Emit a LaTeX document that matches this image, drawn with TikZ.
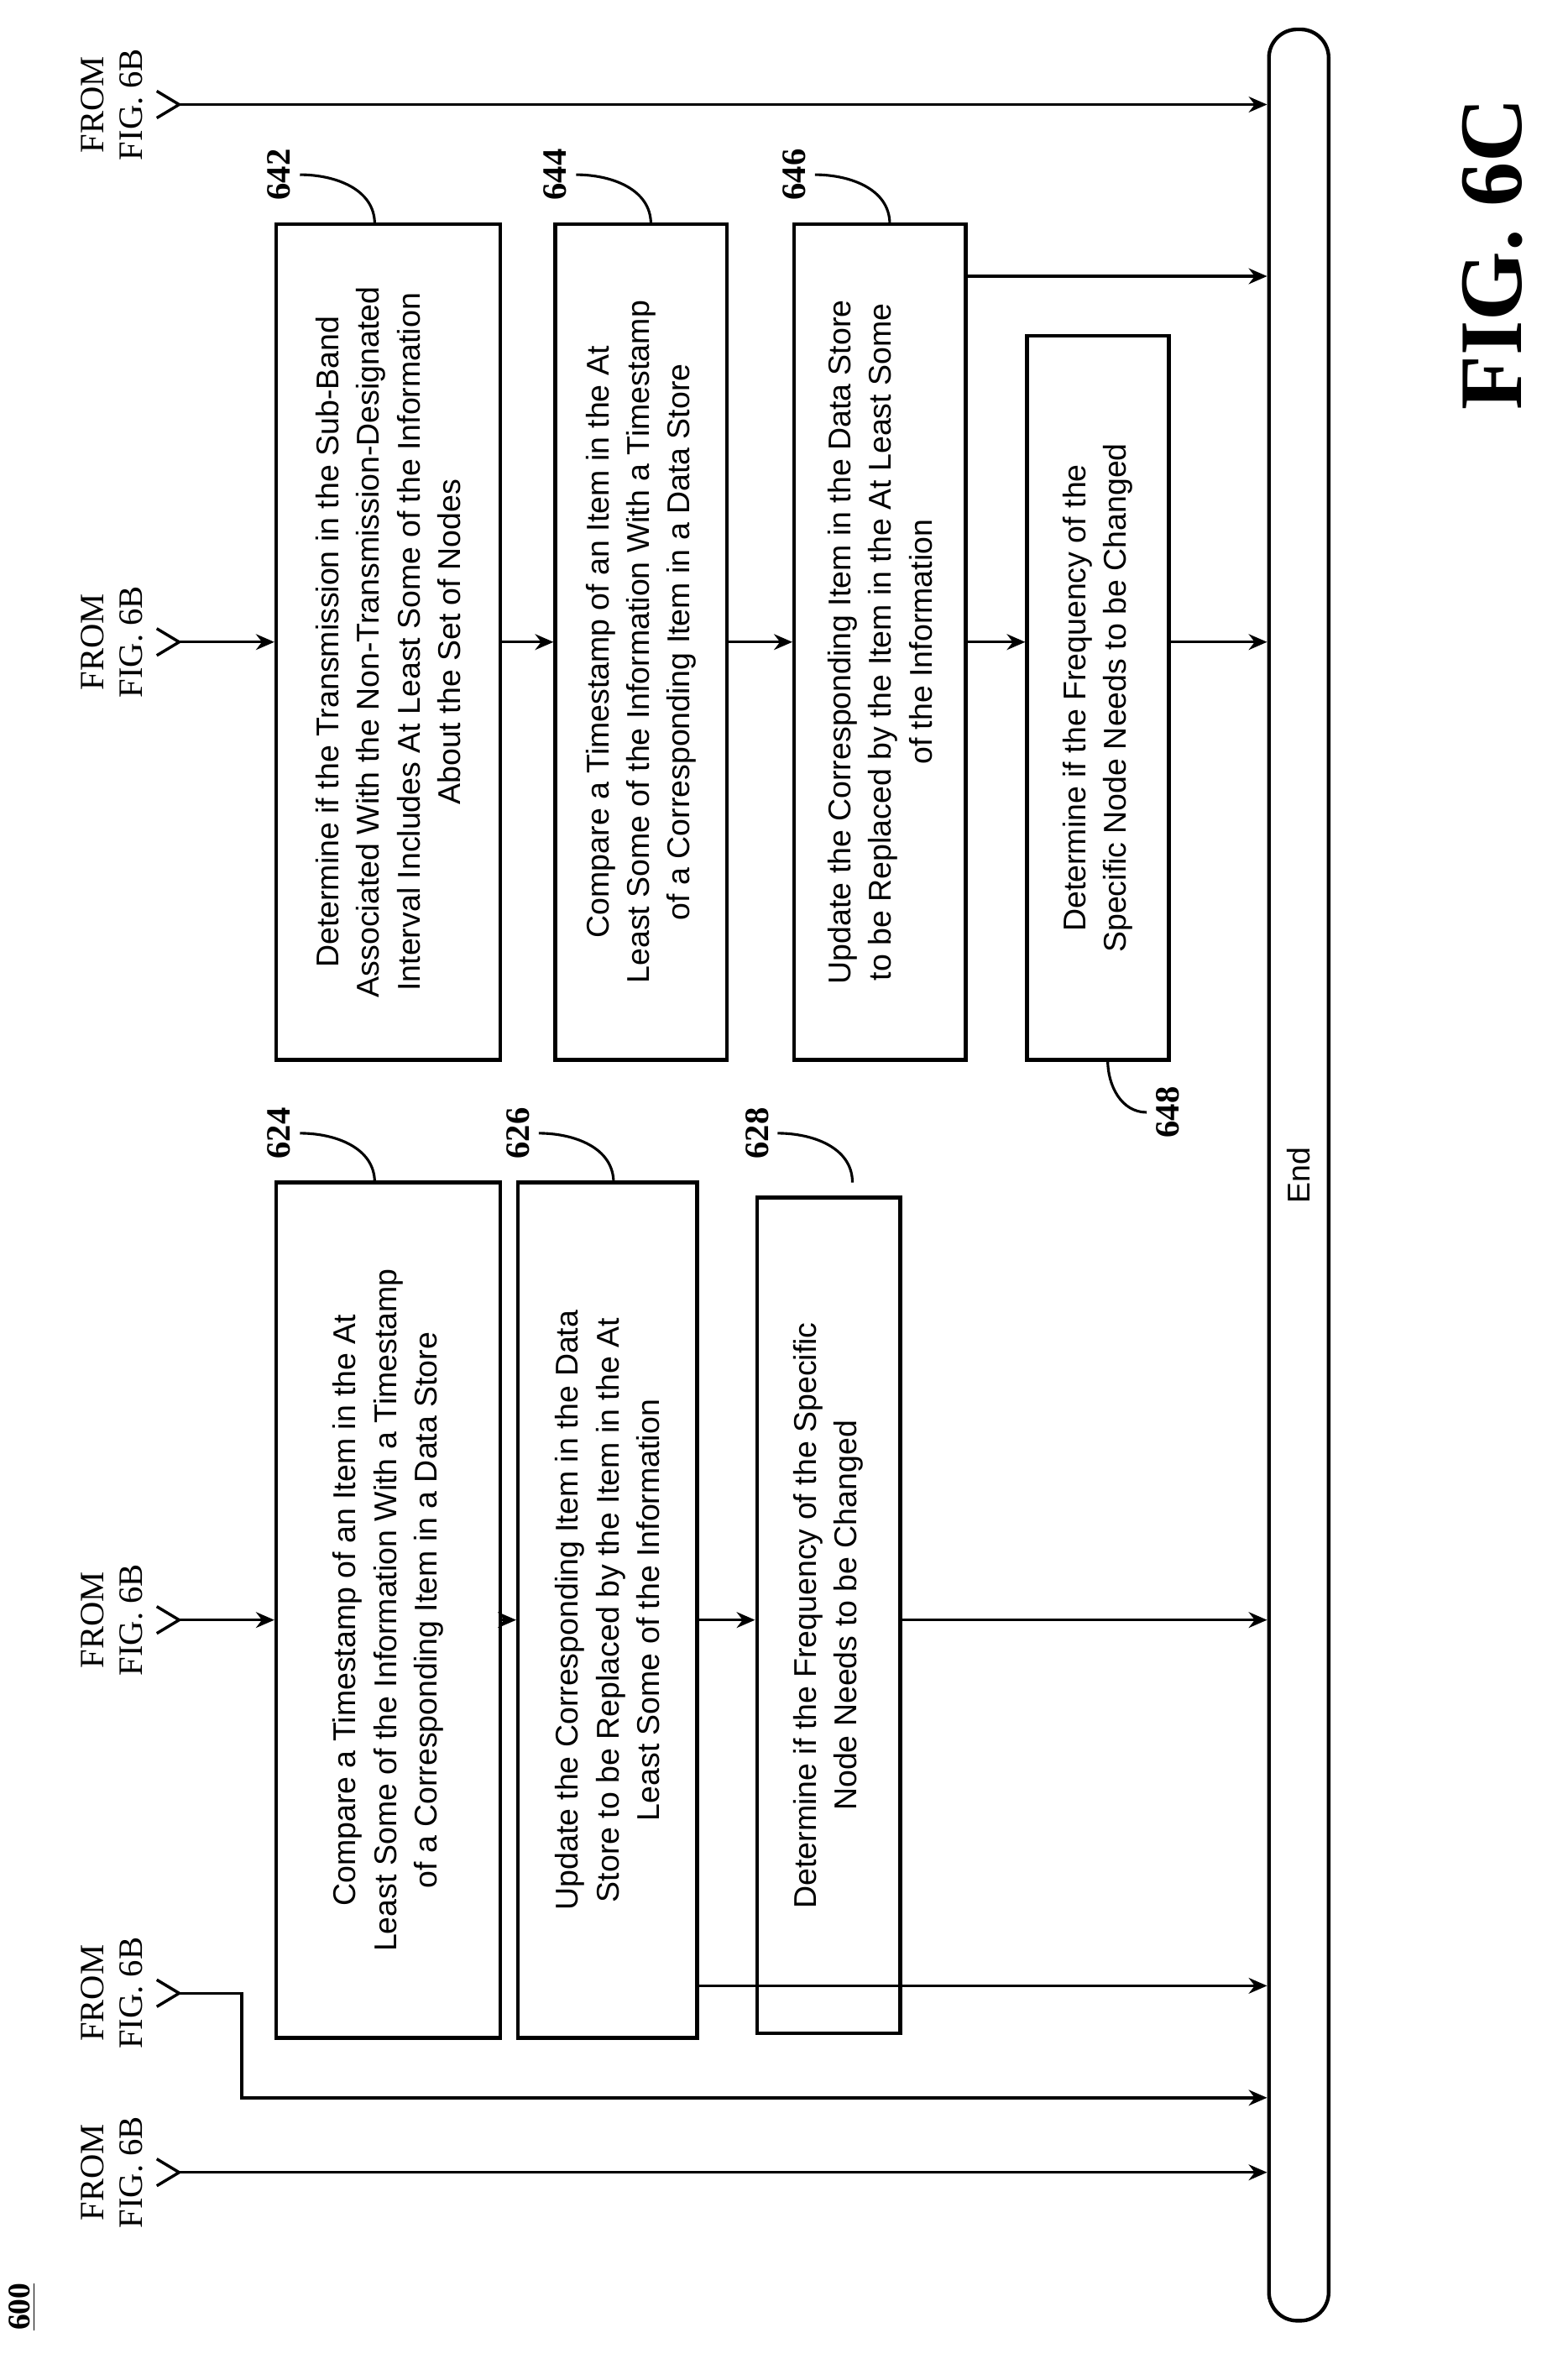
\documentclass[tikz,border=0pt]{standalone}
\usepackage{fontspec}
\setmainfont{Liberation Serif}
\newfontfamily\boxfont{Liberation Sans}
\usetikzlibrary{arrows.meta}
\begin{document}
\begin{tikzpicture}[x=0.02cm,y=0.02cm,
  box/.style={draw,line width=1.4pt,rotate=90,align=center,inner sep=2pt,font=\boxfont\fontsize{12}{15.5}\selectfont},
  from/.style={rotate=90,align=center,font=\fontsize{13}{14.5}\selectfont},
  ref/.style={rotate=90,font=\bfseries\fontsize{13}{14}\selectfont},
  arr/.style={line width=1.1pt,-{Stealth[length=7pt,width=6pt]}},
  ln/.style={line width=1.1pt},
  fork/.style={line width=1.1pt}]
\useasboundingbox (0,0) rectangle (1050,-1580);
% End bar
\node[draw,line width=1.4pt,rounded corners=0.38cm,rotate=90,minimum width=30.7cm,minimum height=0.8cm,font=\boxfont\fontsize{12}{14}\selectfont] (end) at (870,-787) {End};
% boxes
\node[box,minimum width=11.46cm,minimum height=3.0cm] (b624) at (260,-1078.5) {Compare a Timestamp of an Item in the At\\Least Some of the Information With a Timestamp\\of a Corresponding Item in a Data Store};
\node[box,minimum width=11.46cm,minimum height=2.4cm] (b626) at (407,-1078.5) {Update the Corresponding Item in the Data\\Store to be Replaced by the Item in the At\\Least Some of the Information};
\node[box,minimum width=11.2cm,minimum height=1.92cm] (b628) at (555,-1082) {Determine if the Frequency of the Specific\\Node Needs to be Changed};
\node[box,minimum width=11.2cm,minimum height=3.0cm] (b642) at (260,-430) {Determine if the Transmission in the Sub-Band\\Associated With the Non-Transmission-Designated\\Interval Includes At Least Some of the Information\\About the Set of Nodes};
\node[box,minimum width=11.2cm,minimum height=2.3cm] (b644) at (429.5,-430) {Compare a Timestamp of an Item in the At\\Least Some of the Information With a Timestamp\\of a Corresponding Item in a Data Store};
\node[box,minimum width=11.2cm,minimum height=2.3cm] (b646) at (589.5,-430) {Update the Corresponding Item in the Data Store\\to be Replaced by the Item in the At Least Some\\of the Information};
\node[box,minimum width=9.7cm,minimum height=1.9cm] (b648) at (735.5,-467.5) {Determine if the Frequency of the\\Specific Node Needs to be Changed};
% from labels
\foreach \n/\y in {f1/1455,f2/1335,f3/1085,f4/430,f5/70}{
  \node[from] (l\n) at (75,-\y) {FROM\\FIG. 6B};
  \coordinate (\n) at (120,-\y);
  \draw[fork] (105,-\y+9) -- (\n) -- (105,-\y-9);
}
\coordinate (k2) at (162,-1405);
\draw[arr] (f1) -- (f1 -| end.north);
\draw[arr] (f2) -| (k2) -- (k2 -| end.north);
\draw[arr] (f3) -- (f3 -| b624.north);
\draw[arr] (f4) -- (f4 -| b642.north);
\draw[arr] (f5) -- (f5 -| end.north);
% connectors between boxes
\draw[arr] (b624.south |- f3) -- (b626.north |- f3);
\draw[arr] (b626.south |- f3) -- (b628.north |- f3);
\coordinate (r626) at (b626.south |- 0,-1330);
\draw[arr] (r626) -- (r626 -| end.north);
\draw[arr] (b628.south |- f3) -- (end.north |- f3);
\draw[arr] (b642.south |- f4) -- (b644.north |- f4);
\draw[arr] (b644.south |- f4) -- (b646.north |- f4);
\draw[arr] (b646.south |- f4) -- (b648.north |- f4);
\draw[arr] (b648.south |- f4) -- (end.north |- f4);
\coordinate (r646) at (b646.south |- 0,-185);
\draw[arr] (r646) -- (r646 -| end.north);
% reference labels
\foreach \b/\x/\t/\n in {b624/187/792/624,b626/347/792/626,b628/507/792/628,b642/187/150/642,b644/372/150/644,b646/532/150/646}{
  \node[ref] (l\n) at (\x,-\t+33) {\n};
  \coordinate (p\n) at (\x+64,-\t);
  \draw[line width=1pt] (l\n.south) to[out=0,in=90] (p\n);
}
\node[ref] (l648) at (782,-745) {648};
\coordinate (p648) at (742,-710);
\draw[line width=1pt] (p648) to[out=-90,in=180] (l648.north);
\node[rotate=90,font=\bfseries\fontsize{12}{14}\selectfont] (n600) at (15,-1545) {\underline{600}};
\node[rotate=90,font=\bfseries\fontsize{34}{40}\selectfont] (fig) at (1000,-170) {FIG. 6C};
\end{tikzpicture}
\end{document}
